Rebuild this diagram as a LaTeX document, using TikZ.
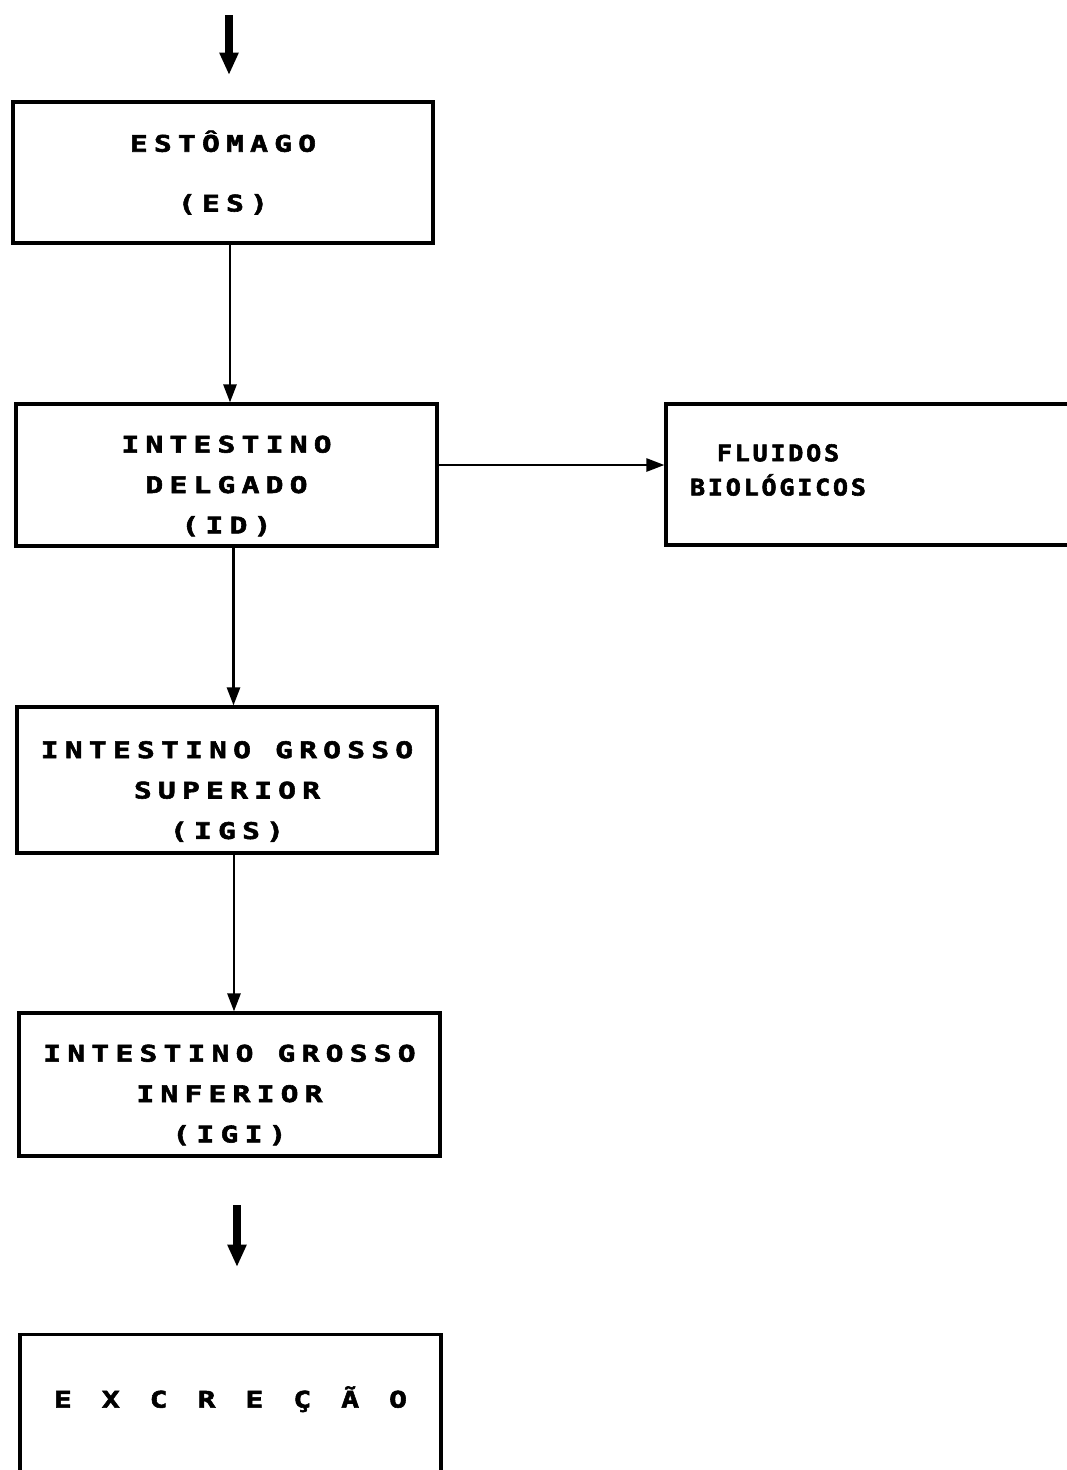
\documentclass[tikz,border=0pt]{standalone}
\usepackage{fontspec}
\newfontfamily\plotfont[FakeStretch=1.1, FakeBold=2.5, LetterSpace=12]{DejaVu Sans Mono Bold}
\newfontfamily\plotwide[FakeStretch=1.3, FakeBold=2.5, LetterSpace=27]{DejaVu Sans Mono Bold}
\usetikzlibrary{arrows.meta}

\begin{document}
\begin{tikzpicture}[
        box/.style={draw, line width=1.8pt, minimum width=8.42cm, minimum height=2.84cm, align=center,
            font=\plotwide\fontsize{13}{23}\selectfont},
        lbl/.style={align=center, font=\plotfont\fontsize{13}{19.5}\selectfont},
        conn/.style={line width=1.5pt, -{Triangle[length=0.36cm,width=0.26cm]}},
        flow/.style={line width=5pt, -{Triangle[length=0.45cm,width=0.36cm]}}
    ]
    \useasboundingbox (0,0) rectangle (21.34,-29.4);
        % Boxes
            \node[box, minimum width=8.4cm, minimum height=2.82cm] (es) at (4.46,-3.45) {ESTÔMAGO\\[11pt](ES)};
            \node[box] (id) at (4.53,-9.5) {\rule{0pt}{0.78cm}INTESTINO\\DELGADO\\(ID)};
            \node[box, minimum width=9cm, minimum height=2.82cm] (fb) at (17.82,-9.49) {};
            \node[lbl] (fbtxt) at (15.56,-9.4) {FLUIDOS\\BIOLÓGICOS};
            \node[box, minimum width=8.4cm, minimum height=2.92cm] (igs) at (4.54,-15.6) {\rule{0pt}{0.8cm}INTESTINO GROSSO\\SUPERIOR\\(IGS)};
            \node[box, minimum height=2.86cm] (igi) at (4.59,-21.69) {\rule{0pt}{0.76cm}INTESTINO GROSSO\\INFERIOR\\(IGI)};
            \node[box, anchor=north, minimum height=3.2cm, text height=0.36cm, text depth=0.64cm] (ex) at (4.61,-26.66)
                {\spaceskip=0.6cm\relax E X C R E Ç Ã O};
        % Free ends
            \coordinate (in1) at (4.58,-0.3);
            \coordinate (in2) at (4.58,-1.5);
            \coordinate (out1) at (4.74,-24.1);
            \coordinate (out2) at (4.74,-25.34);
        % Connectors
            \draw[flow] (in1) -- (in2);
            \draw[conn] ([xshift=0.14cm]es.south) -- ([xshift=0.14cm]es.south |- id.north);
            \draw[conn] ([xshift=0.14cm]id.south) -- ([xshift=0.14cm]id.south |- igs.north);
            \draw[conn] ([xshift=0.14cm]igs.south) -- ([xshift=0.14cm]igs.south |- igi.north);
            \draw[conn] ([yshift=0.2cm]id.east) -- ([yshift=0.2cm]id.east -| fb.west);
            \draw[flow] (out1) -- (out2);
\end{tikzpicture}
\end{document}
